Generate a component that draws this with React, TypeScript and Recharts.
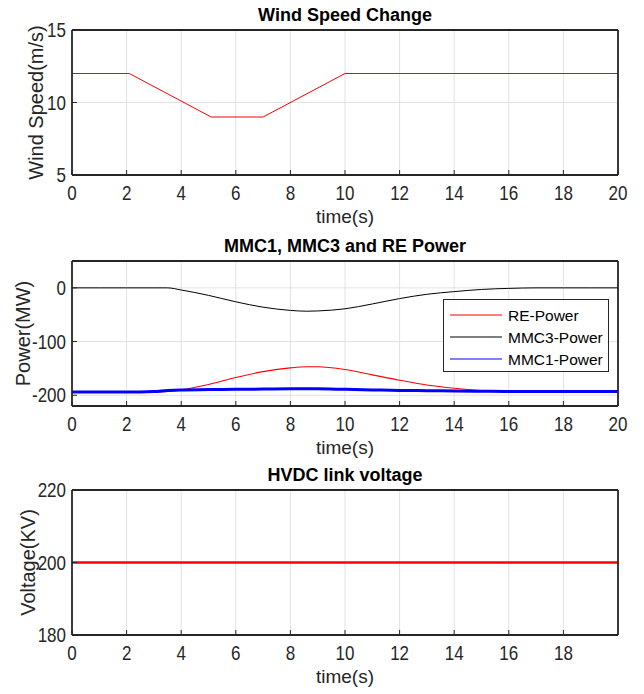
import React from 'react';
import { LineChart, Line, XAxis, YAxis, CartesianGrid, Label, Legend } from 'recharts';

const FONT = '"Liberation Sans", Arial, Helvetica, sans-serif';
const INK = '#262626';
const SQUEEZE = 0.85;

// time axis ticks
const timeTicks = [0, 2, 4, 6, 8, 10, 12, 14, 16, 18, 20];
const hvdcTimeTicks = [0, 2, 4, 6, 8, 10, 12, 14, 16, 18];

// wind speed (m/s)
const windTime = [0, 2.1, 5.1, 7, 10, 20];
const windSpeed = [12, 12, 9, 9, 12, 12];
const windTicks = [5, 10, 15];

// power (MW)
const powerSeries = ['RE-Power', 'MMC3-Power', 'MMC1-Power'];
const powerTime = [0, 1, 2, 3, 3.5, 4, 5, 6, 7, 8, 8.6, 9, 10, 11, 12, 13, 14, 15, 16, 17, 18, 19, 20];
const rePower = [-194, -194, -194, -194, -193, -190, -180, -167, -156, -149, -147, -147, -152, -162, -172, -181, -187, -191, -193, -194, -195, -195, -195];
const mmc3Power = [0, 0, 0, 0, 0, -4, -14, -26, -36, -42, -43.5, -43, -39, -30, -20, -12, -7, -3, -1, 0, 0, 0, 0];
const mmc1Power = [-194, -194, -194, -193, -191, -190, -189.5, -189, -188.5, -188, -188, -188, -189, -190, -191, -191.5, -192, -192.5, -193, -193, -193, -193, -193];
const powerTicks = [-200, -100, 0];

// HVDC link voltage (kV)
const hvdcTime = [0, 20];
const hvdcVoltage = [200, 200];
const voltTicks = [180, 200, 220];

const windData = windTime.map((t, i) => ({ t, v: windSpeed[i] }));
const powerData = powerTime.map((t, i) => ({ t, re: rePower[i], mmc3: mmc3Power[i], mmc1: mmc1Power[i] }));
const hvdcData = hvdcTime.map((t, i) => ({ t, v: hvdcVoltage[i] }));

const W = 644;
const H = 232;
const axisLine = { stroke: INK, strokeWidth: 1.8 };

const XTick = ({ x, y, payload }: any) => (
  <g transform={`translate(${x},${y}) scale(${SQUEEZE},1)`}>
    <text x={0} y={0} dy="0.71em" textAnchor="middle" fill={INK} fontSize={20} fontFamily={FONT}>
      {payload.value}
    </text>
  </g>
);

const YTick = ({ x, y, payload }: any) => (
  <g transform={`translate(${x},${y}) scale(${SQUEEZE},1)`}>
    <text x={0} y={0} dy="0.355em" textAnchor="end" fill={INK} fontSize={20} fontFamily={FONT}>
      {payload.value}
    </text>
  </g>
);

const PowerLegend = ({ payload }: any) => {
  const items = [...(payload || [])].sort((a: any, b: any) => powerSeries.indexOf(a.value) - powerSeries.indexOf(b.value));
  return (
    <svg width={166} height={73} style={{ display: 'block' }}>
      <rect x={0.5} y={0.5} width={165} height={72} fill="#fff" stroke={INK} strokeWidth={1} />
      {items.map((p: any, i: number) => (
        <g key={p.value}>
          <line x1={7} x2={59} y1={16 + 22 * i} y2={16 + 22 * i} stroke={p.color} strokeWidth={1.2} />
          <text x={65} y={16 + 22 * i} dy="0.36em" fontSize={15.5} fontFamily={FONT} fill="#000">
            {p.value}
          </text>
        </g>
      ))}
    </svg>
  );
};

const Panel = ({ title, top, data, xTicks, yDomain, yTicks, yLabel, yLabelDx, children }: any) => (
  <div style={{ position: 'absolute', left: 0, top, width: W, height: H }}>
    <LineChart width={W} height={H} data={data} margin={{ top: 0, right: 0, bottom: 0, left: 0 }}>
      <CartesianGrid stroke="#e2e2e2" strokeWidth={1} />
      <XAxis
        type="number"
        dataKey="t"
        domain={[0, 20]}
        ticks={xTicks}
        interval={0}
        allowDataOverflow
        height={57}
        tickSize={-5}
        tickMargin={16}
        axisLine={axisLine}
        tickLine={{ stroke: INK }}
        tick={<XTick />}
      >
        <Label value="time(s)" position="center" dy={13} fill={INK} fontSize={19} fontFamily={FONT} />
      </XAxis>
      <XAxis
        xAxisId="top"
        orientation="top"
        type="number"
        dataKey="t"
        domain={[0, 20]}
        ticks={xTicks}
        interval={0}
        height={30}
        tickSize={-5}
        axisLine={axisLine}
        tickLine={{ stroke: INK }}
        tick={false}
      />
      <YAxis
        type="number"
        domain={yDomain}
        ticks={yTicks}
        interval={0}
        allowDataOverflow
        width={72}
        tickSize={-5}
        tickMargin={11}
        axisLine={axisLine}
        tickLine={{ stroke: INK }}
        tick={<YTick />}
      >
        <Label value={yLabel} angle={-90} position="center" dx={yLabelDx} fill={INK} fontSize={20} fontFamily={FONT} />
      </YAxis>
      <YAxis
        yAxisId="right"
        orientation="right"
        type="number"
        domain={yDomain}
        ticks={yTicks}
        interval={0}
        width={26}
        tickSize={-5}
        axisLine={axisLine}
        tickLine={{ stroke: INK }}
        tick={false}
      />
      {children}
    </LineChart>
    <div
      style={{
        position: 'absolute',
        left: 72,
        width: 546,
        top: 4,
        textAlign: 'center',
        fontWeight: 'bold',
        fontSize: 18,
        lineHeight: '22px',
        fontFamily: FONT,
        color: '#000',
      }}
    >
      {title}
    </div>
  </div>
);

export default function App() {
  return (
    <div style={{ position: 'absolute', left: 0, top: 0, width: W, height: 694, background: '#fff' }}>
      <Panel title="Wind Speed Change" top={0} data={windData} xTicks={timeTicks} yDomain={[5, 15]} yTicks={windTicks} yLabel="Wind Speed(m/s)" yLabelDx={0}>
        <Line type="linear" dataKey="v" stroke="#ff0000" strokeWidth={1} dot={false} isAnimationActive={false} />
      </Panel>
      <Panel title="MMC1, MMC3 and RE Power" top={231} data={powerData} xTicks={timeTicks} yDomain={[-220, 50]} yTicks={powerTicks} yLabel="Power(MW)" yLabelDx={-13}>
        <Line type="monotone" dataKey="re" name={powerSeries[0]} stroke="#ff0000" strokeWidth={1.1} dot={false} isAnimationActive={false} />
        <Line type="monotone" dataKey="mmc3" name={powerSeries[1]} stroke="#000000" strokeWidth={1} dot={false} isAnimationActive={false} />
        <Line type="monotone" dataKey="mmc1" name={powerSeries[2]} stroke="#0000ff" strokeWidth={3} dot={false} isAnimationActive={false} />
        <Legend
          layout="horizontal"
          verticalAlign="middle"
          align="center"
          content={<PowerLegend />}
          wrapperStyle={{ position: 'absolute', left: 443, top: 68, width: 166, height: 73 }}
        />
      </Panel>
      <Panel title="HVDC link voltage" top={460} data={hvdcData} xTicks={hvdcTimeTicks} yDomain={[180, 220]} yTicks={voltTicks} yLabel="Voltage(KV)" yLabelDx={-8}>
        <Line type="linear" dataKey="v" stroke="#ff0000" strokeWidth={2.5} dot={false} isAnimationActive={false} />
      </Panel>
    </div>
  );
}
